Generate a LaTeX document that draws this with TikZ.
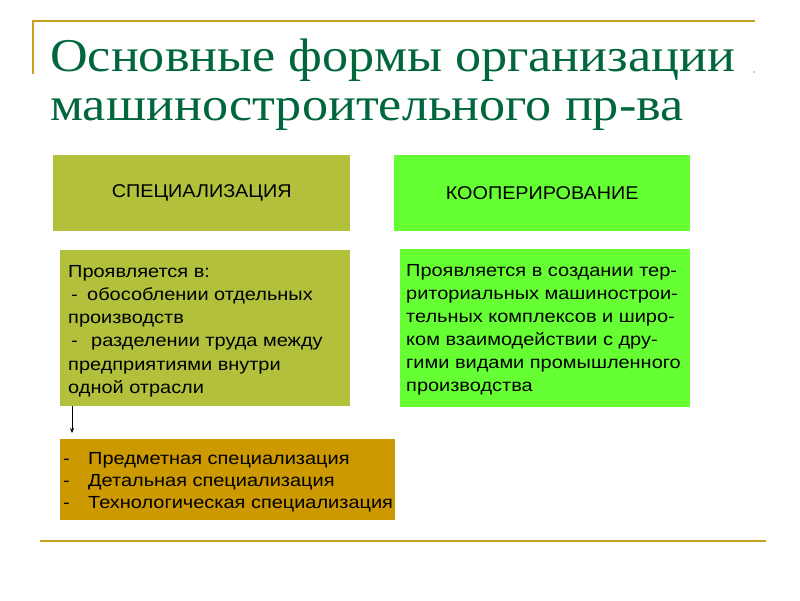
\documentclass[tikz,border=0pt]{standalone}
\usepackage{fontspec}
\setmainfont{Liberation Sans}
\newfontfamily\titlefont[FakeStretch=1.11]{Liberation Serif}
\newfontfamily\bodyfont[FakeStretch=1.14]{Liberation Sans}
\newfontfamily\coopfont[FakeStretch=1.14]{Liberation Sans}
\newfontfamily\headfont[FakeStretch=1.07]{Liberation Sans}
\usetikzlibrary{arrows.meta}
\definecolor{specgreen}{RGB}{178,192,60}
\definecolor{coopgreen}{RGB}{102,255,51}
\definecolor{goldbox}{RGB}{204,153,0}
\definecolor{titlegreen}{RGB}{0,102,60}
\definecolor{rulegold}{RGB}{200,160,32}
\tikzset{
  box/.style={draw=none, inner sep=0pt, anchor=north west},
  boxtext/.style={inner sep=0pt, anchor=north west, align=left, text=black},
  titletext/.style={inner sep=0pt, anchor=base west, text=titlegreen, font=\titlefont\fontsize{47}{52}\selectfont},
  headtext/.style={inner sep=0pt, text=black, font=\headfont\fontsize{18.5}{22}\selectfont},
  rule/.style={draw=rulegold, line width=1.5pt},
}
\begin{document}
\begin{tikzpicture}[x=1pt,y=-1pt]
\useasboundingbox[fill=white] (0,0) rectangle (800,600);
% decorative rules
\coordinate (tl) at (33,21);
\coordinate (tr) at (755,21);
\coordinate (lb) at (33,74);
\coordinate (bl) at (40,541);
\coordinate (br) at (766,541);
\draw[rule] (lb) -- (tl) -- (tr);
\draw[rule] (bl) -- (br);
\fill[rulegold] (754,72) circle (0.8);
% title
\node[titletext] (t1) at (50,71) {Основные формы организации};
\node[titletext] (t2) at (50,120) {машиностроительного пр-ва};
% header boxes
\node[box, fill=specgreen, minimum width=297pt, minimum height=76pt] (spec) at (53,155) {};
\node[headtext] (spect) at (spec.center) {СПЕЦИАЛИЗАЦИЯ};
\node[box, fill=coopgreen, minimum width=296pt, minimum height=76pt] (coop) at (394,155) {};
\node[headtext] (coopt) at (coop.center) {КООПЕРИРОВАНИЕ};
% description boxes
\node[box, fill=specgreen, minimum width=290pt, minimum height=156pt] (sdesc) at (60,250) {};
\node[boxtext, font=\bodyfont\fontsize{17.5}{23.2}\selectfont] (sdesct) at (68,260.8) {%
\strut Проявляется в:\\
\hspace*{3pt}\makebox[16pt][l]{-}обособлении отдельных\\
производств\\
\hspace*{3pt}\makebox[20pt][l]{-}разделении труда между\\
предприятиями внутри\\
одной отрасли};
\node[box, fill=coopgreen, minimum width=290pt, minimum height=158pt] (cdesc) at (400,249) {};
\node[boxtext, font=\coopfont\fontsize{17.5}{23}\selectfont] (cdesct) at (406,259.9) {%
\strut Проявляется в создании тер-\\
риториальных машинострои-\\
тельных комплексов и широ-\\
ком взаимодействии с дру-\\
гими видами промышленного\\
производства};
% gold box
\node[box, fill=goldbox, minimum width=335pt, minimum height=81pt] (gold) at (60,439) {};
\node[boxtext, font=\bodyfont\fontsize{17.5}{22}\selectfont] (goldt) at (63,448.6) {%
\strut\makebox[25pt][l]{-}Предметная специализация\\
\makebox[25pt][l]{-}Детальная специализация\\
\makebox[25pt][l]{-}Технологическая специализация};
% arrow
\draw[-{Stealth[length=5pt,width=4pt]}, line width=0.6pt, shorten >=6pt]
  ([xshift=12pt]sdesc.south west) -- ([xshift=12pt]gold.north west);
\end{tikzpicture}
\end{document}
